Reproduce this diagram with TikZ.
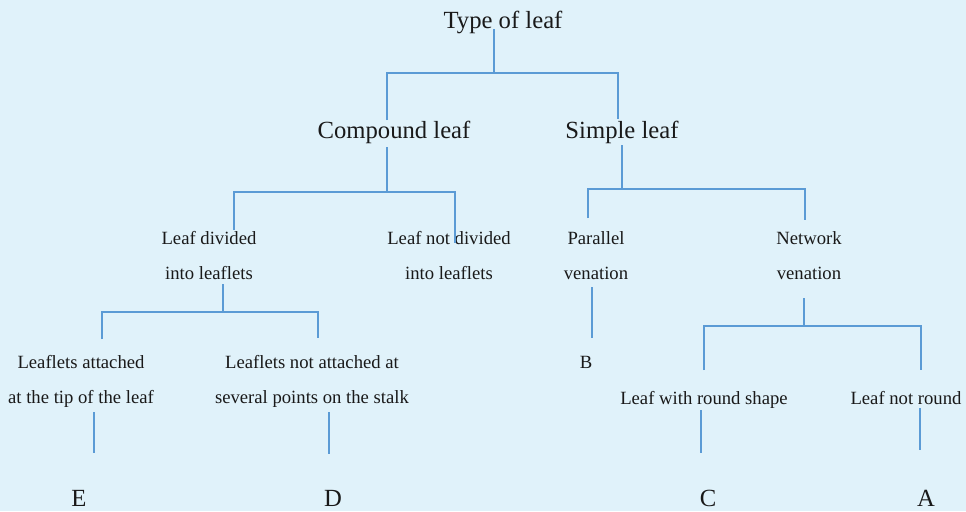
\documentclass[tikz,border=0pt]{standalone}
\usepackage{fontspec}
\setmainfont{Liberation Serif}
\definecolor{bgc}{RGB}{224,242,250}
\definecolor{linec}{RGB}{91,155,213}
\definecolor{txtc}{RGB}{25,25,25}
\tikzset{
  big/.style={font=\fontsize{18.5}{22}\selectfont, text=txtc, inner sep=0pt, anchor=base},
  small/.style={font=\fontsize{14}{26.25}\selectfont, text=txtc, inner sep=0pt, align=center},
  smallone/.style={font=\fontsize{14}{26.25}\selectfont, text=txtc, inner sep=0pt, anchor=base},
  conn/.style={draw=linec, line width=0.9pt}
}
\begin{document}
\begin{tikzpicture}[x=0.75pt,y=-0.75pt]
\useasboundingbox (0,0) rectangle (966,511);
\fill[bgc] (0,0) rectangle (966,511);
% nodes
\node[big] (type) at (503,28) {Type of leaf};
\node[big] (comp) at (394,138) {Compound leaf};
\node[big] (simp) at (622,138) {Simple leaf};
\node[small] (div) at (209,254.5) {\strut Leaf divided\\\strut into leaflets};
\node[small] (ndiv) at (449,254.5) {\strut Leaf not divided\\\strut into leaflets};
\node[small] (par) at (596,254.5) {\strut Parallel\\\strut venation};
\node[small] (net) at (809,254.5) {\strut Network\\\strut venation};
\node[small] (tip) at (81,378.5) {\strut Leaflets attached\\\strut at the tip of the leaf};
\node[small] (stalk) at (312,378.5) {\strut Leaflets not attached at\\\strut several points on the stalk};
\node[smallone] (B) at (586,368) {B};
\node[smallone] (round) at (704,404) {Leaf with round shape};
\node[smallone] (nround) at (906,404) {Leaf not round};
\node[big] (E) at (79,506.5) {E};
\node[big] (D) at (333,506.5) {D};
\node[big] (C) at (708,506.5) {C};
\node[big] (A) at (926,506.5) {A};
% coordinates
\coordinate (t0) at (494,29);
\coordinate (t1) at (494,73);
\coordinate (cT) at (387,120);
\coordinate (sT) at (618,119);
\coordinate (c0) at (387,147);
\coordinate (c1) at (387,192);
\coordinate (dT) at (234,230);
\coordinate (nT) at (455,243);
\coordinate (s0) at (622,145);
\coordinate (s1) at (622,189);
\coordinate (pT) at (588,218);
\coordinate (wT) at (805,220);
\coordinate (d0) at (223,284);
\coordinate (d1) at (223,312);
\coordinate (tT) at (102,339);
\coordinate (kT) at (318,338);
\coordinate (p0) at (592,287);
\coordinate (p1) at (592,338);
\coordinate (w0) at (804,298);
\coordinate (w1) at (804,326);
\coordinate (rT) at (704,370);
\coordinate (qT) at (921,370);
\coordinate (e0) at (94,412);
\coordinate (e1) at (94,453);
\coordinate (k0) at (329,412);
\coordinate (k1) at (329,454);
\coordinate (r0) at (701,410);
\coordinate (r1) at (701,453);
\coordinate (q0) at (920,408);
\coordinate (q1) at (920,450);
% connectors
\draw[conn] (t0) -- (t1);
\draw[conn] (cT) -- (cT |- t1) -- (sT |- t1) -- (sT);
\draw[conn] (c0) -- (c1);
\draw[conn] (dT) -- (dT |- c1) -- (nT |- c1) -- (nT);
\draw[conn] (s0) -- (s1);
\draw[conn] (pT) -- (pT |- s1) -- (wT |- s1) -- (wT);
\draw[conn] (d0) -- (d1);
\draw[conn] (tT) -- (tT |- d1) -- (kT |- d1) -- (kT);
\draw[conn] (p0) -- (p1);
\draw[conn] (w0) -- (w1);
\draw[conn] (rT) -- (rT |- w1) -- (qT |- w1) -- (qT);
\draw[conn] (e0) -- (e1);
\draw[conn] (k0) -- (k1);
\draw[conn] (r0) -- (r1);
\draw[conn] (q0) -- (q1);
\end{tikzpicture}
\end{document}
